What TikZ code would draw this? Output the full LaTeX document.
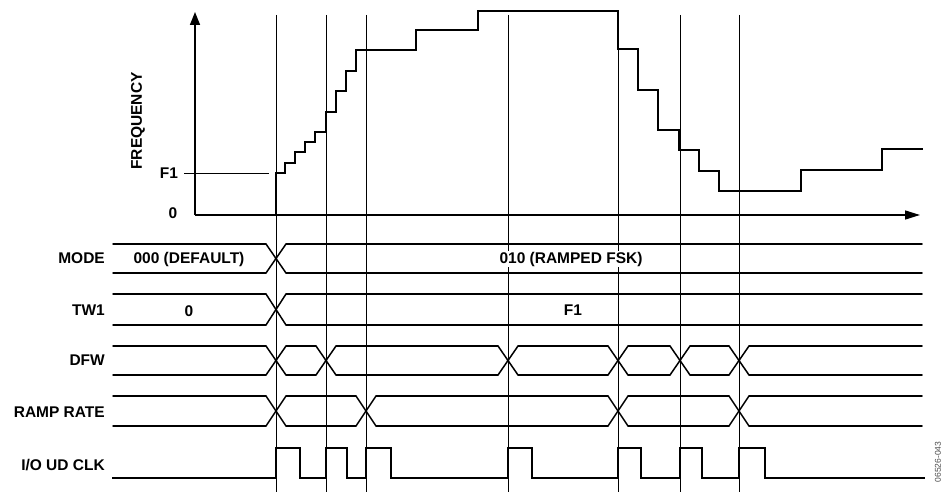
\documentclass[tikz,border=0pt]{standalone}
\usepackage{fontspec}
\setmainfont{Liberation Sans}
\usetikzlibrary{arrows.meta}

% one bus row: top y, bottom y, list of crossing x
\newcommand{\busrow}[3]{%
  \foreach \c [remember=\c as \prev (initially 103)] in {#3,932}
    \draw[bus] (\prev+10,#1) -- (\c-10,#1) (\prev+10,#2) -- (\c-10,#2);
  \foreach \c in {#3}
    \draw[bus] (\c-10,#1) -- (\c+10,#2) (\c-10,#2) -- (\c+10,#1);
}

\begin{document}
\begin{tikzpicture}[x=1pt,y=-1pt,
    guide/.style={line width=0.8pt},
    bus/.style={line width=1.5pt, line cap=round, line join=round},
    lbl/.style={font=\fontsize{15.5}{18}\selectfont\bfseries, inner sep=0pt}]
    \useasboundingbox (0,0) rectangle (946,495);

    % time marks
    \foreach \x in {276,326,366,508,618,680,739}
        \draw[guide] (\x,15) -- (\x,492);

    % axes
    \draw[line width=1.5pt, -{Triangle[length=13pt,width=10pt]}] (195,215) -- (195,12);
    \draw[line width=1.5pt, -{Triangle[length=15pt,width=9pt]}] (195,215) -- (920,215);
    \node[lbl, rotate=90] (freq) at (138,121) {FREQUENCY};
    \node[lbl] (f1) at (169,173) {F1};
    \node[lbl] (orig) at (173,213) {0};
    \draw[guide] ([xshift=6pt]f1.east) -- (269,173);

    % frequency steps
    \draw[line width=2.6pt, line join=miter] (276,215) |- (285,173) |- (295,163) |- (305,152)
        |- (315,142) |- (326,132) |- (336,112) |- (346,91) |- (356,71) |- (416,50)
        |- (478,30) |- (618,11) |- (638,49) |- (658,90) |- (679,130) |- (699,150)
        |- (719,171) |- (801,191) |- (882,170) |- (923,149);

    % signal names
    \node[lbl, anchor=east] (mode) at (105,258) {MODE};
    \node[lbl, anchor=east] (tw) at (105,310) {TW1};
    \node[lbl, anchor=east] (dfw) at (105,360) {DFW};
    \node[lbl, anchor=east] (ramp) at (105,412) {RAMP RATE};
    \node[lbl, anchor=east] (clk) at (105,465) {I/O UD CLK};

    % bus values
    \node[lbl] (dflt) at (189,259) {000 (DEFAULT)};
    \node[lbl, fill=white, inner sep=1pt] (fsk) at (571,259) {010 (RAMPED FSK)};
    \node[lbl] (zero) at (189,311) {0};
    \node[lbl] (fone) at (573,310) {F1};

    \busrow{244}{273}{276}
    \busrow{294}{325}{276}
    \busrow{346}{375}{276,326,508,618,680,739}
    \busrow{396}{426}{276,366,618,739}

    % update clock
    \draw[bus, line cap=butt, line join=miter] (112,478)
        \foreach \r/\f in {276/300,326/347,366/391,508/532,618/641,680/702,739/765}
            { -- (\r,478) -- (\r,448) -- (\f,448) -- (\f,478) } -- (925,478);

    \node[font=\fontsize{8.5}{9}\selectfont, text=black!70, rotate=90] (fig) at (938,462) {06526-043};
\end{tikzpicture}
\end{document}
